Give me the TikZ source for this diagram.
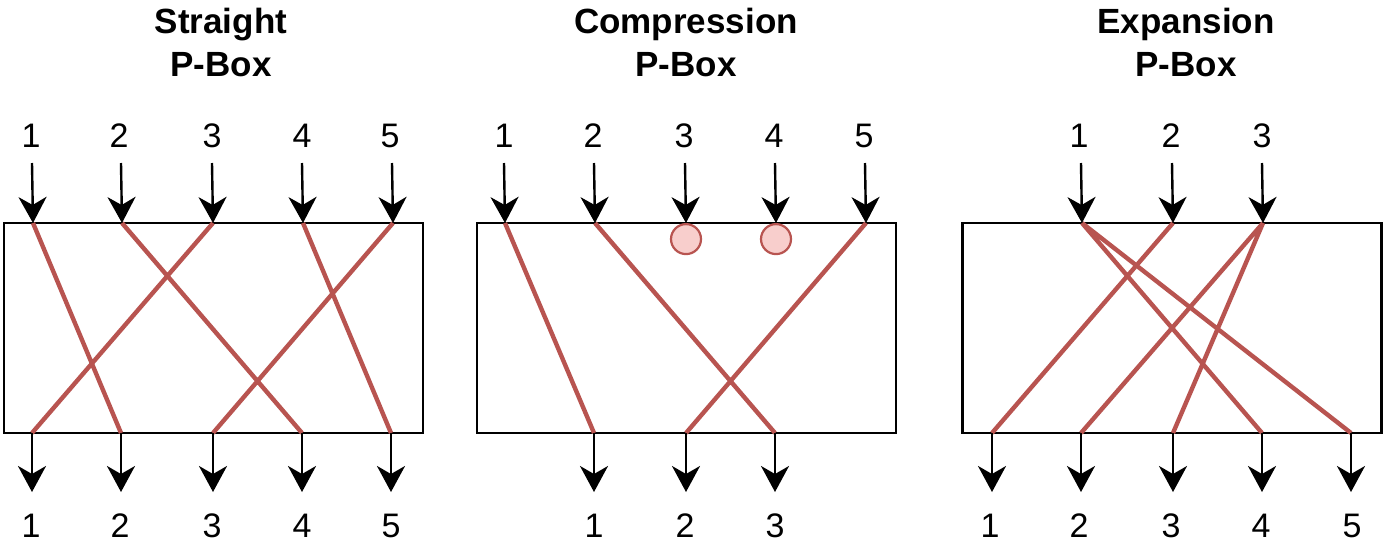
\documentclass[tikz,border=0pt]{standalone}
\usepackage{fontspec}
\setmainfont{Liberation Sans}
\usetikzlibrary{arrows.meta}
\definecolor{wirered}{HTML}{B85450}
\definecolor{dropfill}{HTML}{F8CECC}

\begin{document}
\begin{tikzpicture}[x=1pt,y=-1pt,
    every node/.style={inner sep=0pt,font=\fontsize{34}{40}\selectfont},
    title/.style={align=center,anchor=base,font=\fontsize{35}{43}\selectfont\bfseries},
    num/.style={anchor=base},
    pbox/.style={draw,line width=2.6pt,minimum width=419pt,minimum height=210pt},
    feed/.style={line width=2.4pt,-{Stealth[length=26pt,width=28pt,inset=8pt]}},
    wire/.style={draw=wirered,line width=4.4pt},
    drop/.style={circle,draw=wirered,fill=dropfill,line width=2.2pt,minimum size=30pt,anchor=north}]
\useasboundingbox (0,0) rectangle (1386,555);
    \node[title] (stitle) at (221,76) {Straight\\P-Box};
    \node[title] (ctitle) at (686,76) {Compression\\P-Box};
    \node[title] (etitle) at (1186,76) {Expansion\\P-Box};
    \node[pbox] (sbox) at (213.5,328) {};
    \node[pbox] (cbox) at (686.5,328) {};
    \node[pbox] (ebox) at (1172,328) {};
    \foreach \i/\x/\l in {1/33/31,2/122/119,3/213/212,4/303/302,5/393/390}{
        \node[num] (sin\i) at (\l,147) {\i};
        \coordinate (sa\i) at (\x-1,163);
        \coordinate (st\i) at (\x,223);
    }
    \foreach \i/\x/\l in {1/32/31,2/121/120,3/213/212,4/302/302,5/391/391}{
        \node[num] (sout\i) at (\l,537) {\i};
        \coordinate (sb\i) at (\x,433);
        \coordinate (sz\i) at (\x,492);
    }
    \foreach \i/\x/\l in {1/505/504,2/595/593,3/686/684,4/776/774,5/866/864}{
        \node[num] (cin\i) at (\l,147) {\i};
        \coordinate (ca\i) at (\x-1,163);
        \coordinate (ct\i) at (\x,223);
    }
    \foreach \i/\x/\l in {1/594/594,2/686/685,3/775/775}{
        \node[num] (cout\i) at (\l,537) {\i};
        \coordinate (cb\i) at (\x,433);
        \coordinate (cz\i) at (\x,492);
    }
    \foreach \i/\x/\l in {1/1082/1079,2/1173/1171,3/1263/1262}{
        \node[num] (ein\i) at (\l,147) {\i};
        \coordinate (ea\i) at (\x-1,163);
        \coordinate (et\i) at (\x,223);
    }
    \foreach \i/\x/\l in {1/992/990,2/1081/1079,3/1173/1171,4/1262/1261,5/1351/1352}{
        \node[num] (eout\i) at (\l,537) {\i};
        \coordinate (eb\i) at (\x,433);
        \coordinate (ez\i) at (\x,492);
    }
    \draw[wire] (st1) -- (sb2) (st2) -- (sb4) (st3) -- (sb1) (st4) -- (sb5) (st5) -- (sb3);
    \draw[wire] (ct1) -- (cb1) (ct2) -- (cb3) (ct5) -- (cb2);
    \draw[wire] (et1) -- (eb4) (et1) -- (eb5) (et2) -- (eb1) (et3) -- (eb2) (et3) -- (eb3);
    \node[drop] (cdrop3) at (ct3) {};
    \node[drop] (cdrop4) at (ct4) {};
    \foreach \i in {1,...,5}{
        \draw[feed] (sa\i) -- (st\i);
        \draw[feed] (sb\i) -- (sz\i);
        \draw[feed] (ca\i) -- (ct\i);
    }
    \foreach \i in {1,2,3}{
        \draw[feed] (cb\i) -- (cz\i);
        \draw[feed] (ea\i) -- (et\i);
    }
    \foreach \i in {1,...,5}{
        \draw[feed] (eb\i) -- (ez\i);
    }
\end{tikzpicture}
\end{document}
